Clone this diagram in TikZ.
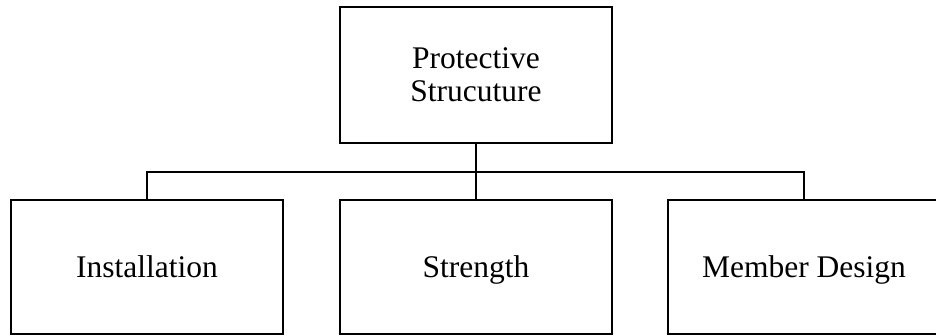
\documentclass[tikz,border=0pt]{standalone}
\usepackage{fontspec}
\setmainfont{Liberation Serif}
\begin{document}
\begin{tikzpicture}[x=1pt,y=1pt,
  box/.style={draw=black, line width=2pt, minimum width=272pt, minimum height=134pt, inner sep=0pt, align=center, font=\fontsize{31.5}{33}\selectfont},
  leaf/.style={box, text height=21.7pt, text depth=0pt},
  conn/.style={draw=black, line width=2pt}]
\useasboundingbox (0,0) rectangle (936,-336);
\node[box, minimum height=136pt] (top) at (476,-75) {Protective\\Strucuture};
\node[leaf] (left) at (147,-267) {Installation};
\node[leaf] (mid) at (476,-267) {Strength};
\node[leaf] (right) at (804,-267) {Member Design};
\coordinate (bus) at (476,-172);
\draw[conn] (top.south) -- (mid.north);
\draw[conn] (left.north) |- (bus) -| (right.north);
\end{tikzpicture}
\end{document}
